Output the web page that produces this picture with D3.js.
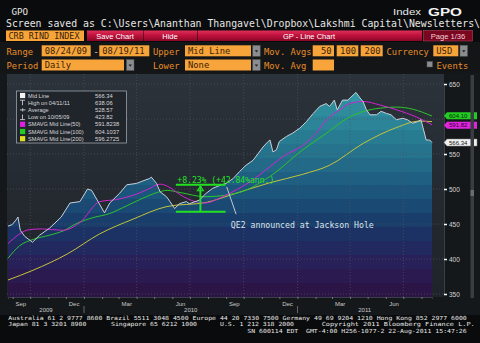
<!DOCTYPE html>
<html><head><meta charset="utf-8">
<script src="https://cdn.jsdelivr.net/npm/d3@7"></script>
<style>html,body{margin:0;padding:0;background:#0a0b0c;overflow:hidden}</style>
</head><body><svg id="c" width="480" height="343"></svg>
<script>
// ---------------- DATA ----------------
const priceDates = ["2009-08-24","2009-08-31","2009-09-07","2009-09-10","2009-09-14","2009-09-22","2009-10-05","2009-10-17","2009-11-03","2009-11-23","2009-12-08","2009-12-25","2010-01-07","2010-01-14","2010-01-25","2010-02-05","2010-02-14","2010-03-03","2010-03-15","2010-04-01","2010-04-10","2010-04-23","2010-04-26","2010-05-05","2010-05-11","2010-05-22","2010-05-28","2010-06-05","2010-06-13","2010-06-25","2010-06-30","2010-07-17","2010-07-29","2010-08-09","2010-08-24","2010-09-01","2010-09-13","2010-09-24","2010-10-05","2010-10-17","2010-10-26","2010-11-03","2010-11-12","2010-11-15","2010-11-20","2010-11-26","2010-12-01","2010-12-13","2010-12-24","2011-01-05","2011-01-16","2011-01-28","2011-02-08","2011-02-19","2011-02-25","2011-03-05","2011-03-10","2011-03-19","2011-03-28","2011-04-11","2011-04-18","2011-04-23","2011-04-29","2011-05-05","2011-05-16","2011-05-24","2011-06-02","2011-06-10","2011-06-19","2011-06-30","2011-07-08","2011-07-17","2011-07-25","2011-07-31","2011-08-06","2011-08-09","2011-08-15","2011-08-19"];
const priceValues = [447,449,456,460,441,432,424,434,444,460,480,482,500,498,482,466,480,494,506,508,511,515,517,508,496,489,482,472,479,482,479,484,494,501,506,508,515,525,534,541,551,560,568,570,553,556,568,575,580,587,596,608,618,622,618,627,613,627,627,638,630,625,613,606,606,611,608,606,599,601,599,594,596,599,580,570,570,566.34];

const sma50Dates = ["2009-08-24","2009-09-30","2009-10-22","2009-11-26","2009-12-25","2010-01-28","2010-02-26","2010-03-26","2010-04-19","2010-05-11","2010-05-28","2010-06-14","2010-07-10","2010-07-28","2010-08-21","2010-09-19","2010-10-20","2010-11-15","2010-12-10","2011-01-10","2011-01-31","2011-02-20","2011-03-14","2011-03-31","2011-04-23","2011-05-22","2011-06-20","2011-07-23","2011-08-19"];
const sma50Values = [422,442,443,441,452,482,485,491,499,507,502,492,482,480,487,499,515,532,548,562,578,599,613,622,625,620,613,603,591.82];

const sma100Dates = ["2009-08-24","2009-09-13","2009-10-06","2009-11-03","2009-11-26","2009-12-20","2010-01-16","2010-02-14","2010-03-15","2010-04-12","2010-05-06","2010-05-23","2010-06-14","2010-07-27","2010-09-19","2010-11-15","2011-01-10","2011-02-20","2011-03-27","2011-05-10","2011-06-20","2011-07-17","2011-08-19"];
const sma100Values = [401,419,428,434,440,451,459,465,476,487,495,498,495,489,494,518,556,580,601,614,617,614,604.10];

const sma200Dates = ["2009-08-24","2009-10-06","2009-12-03","2010-01-28","2010-03-26","2010-05-23","2010-07-30","2010-09-07","2010-11-15","2011-01-10","2011-02-25","2011-04-23","2011-06-20","2011-07-28","2011-08-19"];
const sma200Values = [370,384,407,436,457,475,481,491,509,521,534,565,588,597,596.27];

const gridValues = [350,400,450,500,550,600,650];
const yTickLabels = [350,400,450,500,550,650]; // 600 is hidden behind the value tags
const monthLabels = ["Sep","Dec","Mar","Jun","Sep","Dec","Mar","Jun"];
const monthLabelDates = ["2009-09-15","2009-12-15","2010-03-15","2010-06-15","2010-09-15","2010-12-15","2011-03-15","2011-06-15"];
const yearLabels = ["2009","2010","2011"];

const legendLabels = ["Mid Line","High on 04/11/11","Average","Low on 10/05/09","SMAVG Mid Line(50)","SMAVG Mid Line(100)","SMAVG Mid Line(200)"];
const legendValues = ["566.34","638.06","528.57","423.82","591.8238","604.1037","596.2725"];

const tagValues = [604.10, 591.82, 566.34];
const tagLabels = ["604.10","591.82","566.34"];

// measurement annotation (dates & values)
const measureStart = "2010-06-07", measureEnd = "2010-08-31", measureMid = "2010-07-19";
const measureLow = 467.6, measureHigh = 506.1;
const measureText = "+8.23% (+42.84%ann.)";
const noteText = "QE2 announced at Jackson Hole";
const notePointer = [["2010-09-02",503],["2010-09-18",464]];
const noteAnchor = ["2010-09-09",444];

// ---------------- SETUP ----------------
const P = d3.timeParse("%Y-%m-%d");
const svg = d3.select("#c");
const MONO = "'DejaVu Sans Mono', monospace";
const SANS = "'Liberation Sans', Arial, sans-serif";
const plot = {l:7, r:444, t:74, b:297};

const x = d3.scaleTime().domain([P("2009-08-24"), P("2011-08-19")]).range([8, 432]);
const y = d3.scaleLinear().domain([350, 650]).range([294, 84]);

const defs = svg.append("defs");

// background
svg.append("rect").attr("width",480).attr("height",343).attr("fill","#0a0b0c");
svg.append("rect").attr("x",0).attr("y",42).attr("width",480).attr("height",32).attr("fill","#141516");
svg.append("rect").attr("x",0).attr("y",73).attr("width",480).attr("height",242).attr("fill","#15181b");

// banded gradients
function bandGradient(id, colors, n){
  const g = defs.append("linearGradient").attr("id",id).attr("gradientUnits","userSpaceOnUse")
    .attr("x1",0).attr("x2",0).attr("y1",plot.t).attr("y2",plot.b);
  const interp = d3.piecewise(d3.interpolateRgb, colors);
  for(let i=0;i<n;i++){
    const c = interp(i/(n-1));
    g.append("stop").attr("offset", i/n).attr("stop-color", c);
    g.append("stop").attr("offset", (i+1)/n).attr("stop-color", c);
  }
}
bandGradient("bg", ["#2c3239","#272d34","#23282f","#1f242a"], 16);
bandGradient("fillg", ["#35a0ae","#2d8b9c","#277a90","#216686","#1a4f78","#1a3566","#28215a","#2b1446"], 16);

svg.append("rect").attr("x",plot.l).attr("y",plot.t).attr("width",plot.r-plot.l).attr("height",plot.b-plot.t).attr("fill","url(#bg)");

const price = priceDates.map((d,i)=>({d:P(d), v:priceValues[i]}));
const toPts = (ds, vs)=> ds.map((d,i)=>({d:P(d), v:vs[i]}));

// area fill
svg.append("path").datum(price)
  .attr("d", d3.area().x(p=>x(p.d)).y0(plot.b).y1(p=>y(p.v)))
  .attr("fill","url(#fillg)");

// grid
const gridG = svg.append("g");
gridValues.forEach(t=>{
  gridG.append("line").attr("x1",plot.l).attr("x2",plot.r).attr("y1",y(t)).attr("y2",y(t))
    .attr("stroke","#4a5560").attr("stroke-width",0.7).attr("stroke-dasharray","1,2");
});
const quarters = d3.timeMonth.every(3).range(P("2009-09-01"), P("2011-08-20")).filter(d=>d.getMonth()%3===0);
quarters.forEach(q=>{
  gridG.append("line").attr("x1",x(q)).attr("x2",x(q)).attr("y1",plot.t).attr("y2",plot.b)
    .attr("stroke","#4a5560").attr("stroke-width",0.7).attr("stroke-dasharray","1,2");
});

// MA lines
const lineGen = d3.line().x(p=>x(p.d)).y(p=>y(p.v)).curve(d3.curveMonotoneX);
svg.append("path").datum(toPts(sma200Dates, sma200Values)).attr("d",lineGen).attr("fill","none").attr("stroke","#c4c43a").attr("stroke-width",1);
svg.append("path").datum(toPts(sma100Dates, sma100Values)).attr("d",lineGen).attr("fill","none").attr("stroke","#2cc42c").attr("stroke-width",1);
svg.append("path").datum(toPts(sma50Dates, sma50Values)).attr("d",lineGen).attr("fill","none").attr("stroke","#d024d0").attr("stroke-width",1);

// mid line
svg.append("path").datum(price)
  .attr("d", d3.line().x(p=>x(p.d)).y(p=>y(p.v)))
  .attr("fill","none").attr("stroke","#c6d2da").attr("stroke-width",1);

// y axis (right)
const yAxis = d3.axisRight(y).tickValues(yTickLabels).tickSize(3).tickPadding(2);
const ya = svg.append("g").attr("transform",`translate(${plot.r},0)`).call(yAxis);
ya.select(".domain").attr("stroke","#3a4048");
ya.selectAll(".tick line").attr("stroke","#ffffff").attr("stroke-width",1.5);
ya.selectAll(".tick text").attr("fill","#d6d6d6").attr("font-family",SANS).attr("font-size","6.5px");

// x axis
const xa = svg.append("g").attr("transform",`translate(0,${plot.b})`)
  .call(d3.axisBottom(x).ticks(d3.timeMonth.every(1)).tickSize(2).tickFormat(""));
xa.select(".domain").attr("stroke","#3a4048");
xa.selectAll(".tick line").attr("stroke","#777");
monthLabelDates.forEach((d,i)=>{
  svg.append("text").attr("x",x(P(d))).attr("y",305.5).attr("text-anchor","middle")
    .attr("fill","#c8c8c8").attr("font-family",SANS).attr("font-size","6px").text(monthLabels[i]);
});
const yearStarts = [P("2010-01-01"), P("2011-01-01")];
const yearSpans = [[x.domain()[0], yearStarts[0]],[yearStarts[0], yearStarts[1]],[yearStarts[1], x.domain()[1]]];
yearSpans.forEach((s,i)=>{
  svg.append("text").attr("x",(x(s[0])+x(s[1]))/2).attr("y",312).attr("text-anchor","middle")
    .attr("fill","#c8c8c8").attr("font-family",SANS).attr("font-size","6px").text(yearLabels[i]);
});
yearStarts.forEach(d=>{
  svg.append("line").attr("x1",x(d)).attr("x2",x(d)).attr("y1",306).attr("y2",313).attr("stroke","#666");
});

// right tags (with simple collision avoidance)
const tagColors = ["#22cc22","#e024e0","#f0f0f0"];
const tagText = ["#0a2a0a","#2a002a","#111"];
const tagY = tagValues.map(v=>y(v));
for(let i=1;i<tagY.length;i++){
  if(tagY[i]-tagY[i-1] < 9.5){ const d = (9.5-(tagY[i]-tagY[i-1]))/2; tagY[i-1]-=d; tagY[i]+=d; }
}
tagValues.forEach((v,i)=>{
  const yc = tagY[i];
  svg.append("path").attr("d",`M${plot.r},${yc} L${plot.r+3},${yc-3.5} L${plot.r+33},${yc-3.5} L${plot.r+33},${yc+3.5} L${plot.r+3},${yc+3.5} Z`)
    .attr("fill",tagColors[i]).attr("stroke", i===2?"#888":"none").attr("stroke-width",0.5);
  svg.append("text").attr("x",plot.r+5).attr("y",yc+2.1).attr("fill",tagText[i])
    .attr("font-family",SANS).attr("font-size","6px").text(tagLabels[i]);
});

// scrollbar
svg.append("rect").attr("x",470.5).attr("y",75).attr("width",3.5).attr("height",223).attr("fill","#3a3d40");
svg.append("rect").attr("x",470.5).attr("y",190).attr("width",3.5).attr("height",6).attr("fill","#6a6d70");

// legend
const lg = svg.append("g");
lg.append("rect").attr("x",16.5).attr("y",91).attr("width",110).attr("height",52)
  .attr("fill","#1f242a").attr("fill-opacity",0.9).attr("stroke","#9aa2aa").attr("stroke-width",0.8);
legendLabels.forEach((l,i)=>{
  const cy = 95.5 + i*7.2;
  const ix = 20;
  if(i===0) lg.append("rect").attr("x",ix).attr("y",cy-2.6).attr("width",5.2).attr("height",5.2).attr("fill","#f4f4f4");
  if(i===1) lg.append("path").attr("d",`M${ix},${cy-2.5}h5 M${ix+2.5},${cy-2.5}v5`).attr("stroke","#e0e0e0").attr("stroke-width",0.8);
  if(i===2) lg.append("path").attr("d",`M${ix},${cy}h5.5 M${ix+2.7},${cy-1.6}v3.2`).attr("stroke","#e0e0e0").attr("stroke-width",0.8);
  if(i===3) lg.append("path").attr("d",`M${ix},${cy+2.5}h5 M${ix+2.5},${cy+2.5}v-5`).attr("stroke","#e0e0e0").attr("stroke-width",0.8);
  if(i>=4) lg.append("rect").attr("x",ix).attr("y",cy-2.6).attr("width",5.2).attr("height",5.2).attr("fill",["#e020e0","#22cc22","#e0e020"][i-4]);
  lg.append("text").attr("x",28).attr("y",cy+2).attr("fill","#d8d8d8").attr("font-family",SANS).attr("font-size","5.6px").text(l);
  lg.append("text").attr("x",95).attr("y",cy+2).attr("fill","#d8d8d8").attr("font-family",SANS).attr("font-size","5.8px").text(legendValues[i]);
});

// measurement annotation
const GREEN = "#22e022";
const mx0 = x(P(measureStart)), mx1 = x(P(measureEnd)), mxm = x(P(measureMid));
svg.append("line").attr("x1",mx0).attr("x2",mx1).attr("y1",y(measureHigh)).attr("y2",y(measureHigh)).attr("stroke",GREEN).attr("stroke-width",2);
svg.append("line").attr("x1",mx0).attr("x2",mx1).attr("y1",y(measureLow)).attr("y2",y(measureLow)).attr("stroke",GREEN).attr("stroke-width",2);
svg.append("line").attr("x1",mxm).attr("x2",mxm).attr("y1",y(measureHigh)+1).attr("y2",y(measureLow)).attr("stroke",GREEN).attr("stroke-width",2);
svg.append("path").attr("d",`M${mxm},${y(measureHigh)+1.5} l-3,4.5 h6 Z`).attr("fill","none").attr("stroke",GREEN).attr("stroke-width",1.2);
svg.append("text").attr("x",mx0+1.5).attr("y",y(measureHigh)-2).attr("fill",GREEN)
  .attr("font-family",MONO).attr("font-size","8.2px").attr("textLength",97).text(measureText);

// QE2 note
svg.append("line").attr("x1",x(P(notePointer[0][0]))).attr("y1",y(notePointer[0][1]))
  .attr("x2",x(P(notePointer[1][0]))).attr("y2",y(notePointer[1][1])).attr("stroke","#c0cad2").attr("stroke-width",1);
svg.append("text").attr("x",x(P(noteAnchor[0]))).attr("y",y(noteAnchor[1])).attr("fill","#dde4ea")
  .attr("font-family",MONO).attr("font-size","8.2px").text(noteText);

// ---------------- HEADER ----------------
function txt(xp, yp, s, o={}){
  const t = svg.append("text").attr("x",xp).attr("y",yp).text(s)
    .attr("fill",o.fill||"#e6e6e6").attr("font-family",o.font||MONO).attr("font-size",o.size||"8.8px");
  if(o.anchor) t.attr("text-anchor",o.anchor);
  if(o.weight) t.attr("font-weight",o.weight);
  if(o.len) t.attr("textLength",o.len).attr("lengthAdjust","spacingAndGlyphs");
  return t;
}
txt(11.5, 15, "GPO", {size:"9.2px", fill:"#e8e8e8"});
txt(393, 15, "Index", {size:"9.2px", fill:"#e8e8e8", font:SANS, len:28});
txt(428, 16, "GPO", {size:"11.5px", fill:"#f4f4f4", font:SANS, weight:"bold", len:34});
txt(6, 27, "Screen saved as C:\\Users\\Ananthan Thangavel\\Dropbox\\Lakshmi Capital\\Newsletters\\", {size:"9.7px", fill:"#e6e6e6", len:474});

// red bar gradient
const rg = defs.append("linearGradient").attr("id","red").attr("x1",0).attr("x2",0).attr("y1",0).attr("y2",1);
rg.append("stop").attr("offset",0).attr("stop-color","#e0305a");
rg.append("stop").attr("offset",0.45).attr("stop-color","#c0123e");
rg.append("stop").attr("offset",1).attr("stop-color","#8a0626");

const ORANGE = "#f7a43a", OTXT = "#3a2208", OLAB = "#e88e2a";
svg.append("rect").attr("x",6).attr("y",30.5).attr("width",78).attr("height",10.5).attr("fill",ORANGE);
txt(8.5, 39.2, "CRB RIND INDEX", {fill:OTXT, size:"8.5px", len:71});
svg.append("rect").attr("x",87).attr("y",30.5).attr("width",56).attr("height",10.5).attr("fill","url(#red)");
svg.append("rect").attr("x",143.5).attr("y",30.5).attr("width",54).attr("height",10.5).attr("fill","url(#red)");
svg.append("rect").attr("x",198).attr("y",30.5).attr("width",224).attr("height",10.5).attr("fill","url(#red)");
txt(115, 38.8, "Save Chart", {fill:"#fff", font:SANS, size:"7.5px", anchor:"middle"});
txt(170, 38.8, "Hide", {fill:"#fff", font:SANS, size:"7.5px", anchor:"middle"});
txt(309, 38.8, "GP - Line Chart", {fill:"#fff", font:SANS, size:"7.5px", anchor:"middle"});
svg.append("rect").attr("x",423.5).attr("y",30.5).attr("width",49).attr("height",10.5).attr("fill","#7a0620").attr("stroke","#b8405a").attr("stroke-width",0.6);
txt(448, 39, "Page 1/36", {fill:"#f4d0d8", font:SANS, size:"7.6px", anchor:"middle"});

function box(x0, x1, yy, label){
  svg.append("rect").attr("x",x0).attr("y",yy).attr("width",x1-x0).attr("height",11).attr("fill",ORANGE);
  if(label) txt(x0+3, yy+8.6, label, {fill:OTXT});
}
function drop(x0, yy){
  svg.append("rect").attr("x",x0).attr("y",yy).attr("width",7.5).attr("height",11).attr("fill","#8a8d90").attr("stroke","#555").attr("stroke-width",0.5);
  svg.append("path").attr("d",`M${x0+2},${yy+5} h3.5 l-1.75,2.2 Z`).attr("fill","#222");
}
// row 2
txt(6.5, 54.5, "Range", {fill:OLAB});
box(41.7, 90.7, 45.3, "08/24/09");
txt(93.5, 54.5, "-", {fill:"#ddd"});
box(99.3, 149.3, 45.3, "08/19/11");
txt(153, 54.5, "Upper", {fill:OLAB});
box(185, 251, 45.3, "Mid Line");
drop(252.7, 45.3);
txt(264, 54.5, "Mov. Avgs", {fill:OLAB});
box(312.7, 334, 45.3); txt(331.5, 53.9, "50", {fill:OTXT, anchor:"end"});
box(336.7, 358.3, 45.3); txt(356, 53.9, "100", {fill:OTXT, anchor:"end"});
box(360.7, 382.7, 45.3); txt(380.5, 53.9, "200", {fill:OTXT, anchor:"end"});
txt(386.5, 54.5, "Currency", {fill:OLAB});
box(433.3, 458.3, 45.3, "USD");
drop(460, 45.3);
// row 3
txt(6.5, 68.5, "Period", {fill:OLAB});
box(41.7, 124, 59.5, "Daily");
drop(126.5, 59.5);
txt(153, 68.5, "Lower", {fill:OLAB});
box(185, 251, 59.5, "None");
drop(252.7, 59.5);
txt(264, 68.5, "Mov. Avg", {fill:OLAB});
box(312.7, 334, 59.5);
svg.append("rect").attr("x",427).attr("y",61.5).attr("width",5.5).attr("height",5.5).attr("fill","#8a8d90").attr("stroke","#555").attr("stroke-width",0.5);
txt(436.5, 68.5, "Events", {fill:OLAB});

// ---------------- FOOTER ----------------
const FT = {size:"5.6px", fill:"#e8e8e8"};
txt(8.3, 320, "Australia 61 2 9777 8600 Brazil 5511 3048 4500 Europe 44 20 7330 7500 Germany 49 69 9204 1210 Hong Kong 852 2977 6000", Object.assign({len:458.5},FT));
txt(8.3, 326.4, "Japan 81 3 3201 8900", Object.assign({len:78},FT));
txt(111, 326.4, "Singapore 65 6212 1000", Object.assign({len:86},FT));
txt(220, 326.4, "U.S. 1 212 318 2000", Object.assign({len:74},FT));
txt(321.7, 326.4, "Copyright 2011 Bloomberg Finance L.P.", Object.assign({len:153},FT));
txt(247.3, 332.9, "SN 600114 EDT", Object.assign({len:51},FT));
txt(306, 332.9, "GMT-4:00 H256-1077-2 22-Aug-2011 15:47:26", Object.assign({len:160.7},FT));
</script>
</body></html>
